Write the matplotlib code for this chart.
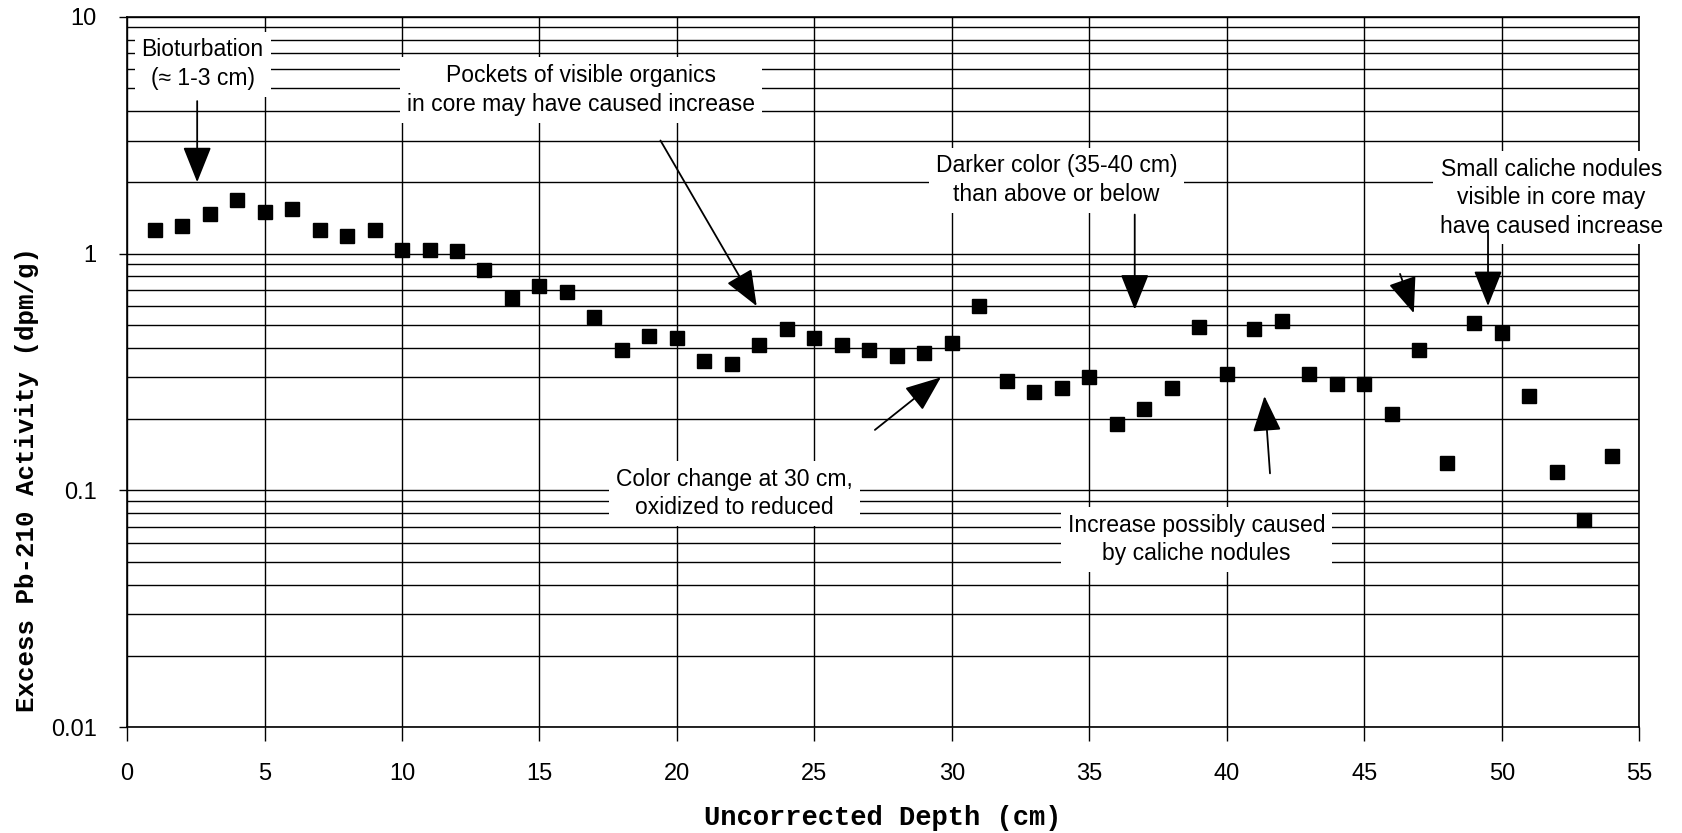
import matplotlib.pyplot as plt
from matplotlib.ticker import FixedLocator, LogLocator, NullFormatter

# depth (cm) and excess Pb-210 activity (dpm/g)
depth = list(range(1, 55))
activity = [1.26, 1.31, 1.47, 1.69, 1.50, 1.54, 1.26, 1.19, 1.26, 1.03,
            1.03, 1.02, 0.85, 0.65, 0.73, 0.69, 0.54, 0.39, 0.45, 0.44,
            0.35, 0.34, 0.41, 0.48, 0.44, 0.41, 0.39, 0.37, 0.38, 0.42,
            0.60, 0.29, 0.26, 0.27, 0.30, 0.19, 0.22, 0.27, 0.49, 0.31,
            0.48, 0.52, 0.31, 0.28, 0.28, 0.21, 0.39, 0.13, 0.51, 0.46,
            0.25, 0.12, 0.075, 0.14]

x_ticks = [0, 5, 10, 15, 20, 25, 30, 35, 40, 45, 50, 55]
y_ticks = [0.01, 0.1, 1, 10]
y_tick_labels = ['0.01', '0.1', '1', '10']

# annotation text, text position, arrows (start, end)
notes = [
    ('Bioturbation\n(\u2248 1-3 cm)', (2.75, 6.3), [((2.55, 4.4), (2.55, 2.0))]),
    ('Pockets of visible organics\nin core may have caused increase', (16.5, 4.9),
     [((19.4, 3.0), (22.9, 0.60))]),
    ('Darker color (35-40 cm)\nthan above or below', (33.8, 2.04),
     [((36.65, 1.46), (36.65, 0.58))]),
    ('Small caliche nodules\nvisible in core may\nhave caused increase', (51.8, 1.72),
     [((46.3, 0.82), (46.8, 0.56)), ((49.5, 1.25), (49.5, 0.60))]),
    ('Color change at 30 cm,\noxidized to reduced', (22.1, 0.097),
     [((27.2, 0.18), (29.6, 0.30))]),
    ('Increase possibly caused\nby caliche nodules', (38.9, 0.062),
     [((41.57, 0.118), (41.37, 0.25))]),
]

note_font = ['Liberation Sans', 'DejaVu Sans']
mono_font = ['Liberation Mono', 'DejaVu Sans Mono']

fig = plt.figure(figsize=(16.83, 8.33), dpi=100)
ax = fig.add_axes([0.0755, 0.127, 0.8985, 0.853])

ax.set_yscale('log')
ax.set_xlim(0, 55)
ax.set_ylim(0.01, 10)

ax.yaxis.set_major_locator(FixedLocator(y_ticks))
ax.set_yticklabels(y_tick_labels)
ax.yaxis.set_minor_locator(LogLocator(base=10, subs=range(2, 10)))
ax.yaxis.set_minor_formatter(NullFormatter())
ax.set_xticks(x_ticks)
ax.set_xticklabels([str(t) for t in x_ticks])

ax.grid(which='both', axis='y', color='black', lw=1.0)
ax.grid(which='major', axis='x', color='black', lw=1.0)
ax.set_axisbelow(True)
for s in ax.spines.values():
    s.set_linewidth(1.2)

ax.tick_params(axis='x', which='major', direction='out', length=10, width=1, pad=16)
ax.tick_params(axis='y', which='major', direction='out', length=6, width=1, pad=16)
ax.tick_params(axis='y', which='minor', length=0)
for lab in ax.get_xticklabels() + ax.get_yticklabels():
    lab.set_family(note_font)
    lab.set_fontsize(17)

ax.plot(depth, activity, 's', color='black', ms=10, zorder=3)

for text, pos, arrows in notes:
    ax.text(pos[0], pos[1], text, ha='center', va='center', fontsize=16.5,
            family=note_font, linespacing=1.3, zorder=4,
            bbox=dict(facecolor='white', edgecolor='none', pad=5))
    for start, end in arrows:
        ax.annotate('', xy=end, xytext=start, zorder=5,
                    arrowprops=dict(arrowstyle='-|>,head_length=0.8,head_width=0.32',
                                    color='black', lw=1.3,
                                    mutation_scale=28, shrinkA=0, shrinkB=0))

ax.set_xlabel('Uncorrected Depth (cm)', family=mono_font, fontweight='bold',
              fontsize=19.5, labelpad=14)
ax.set_ylabel('Excess Pb-210 Activity (dpm/g)', family=mono_font, fontweight='bold',
              fontsize=18.5)
ax.yaxis.set_label_coords(-0.058, 0.348)

fig.savefig('out.png', dpi=100)
